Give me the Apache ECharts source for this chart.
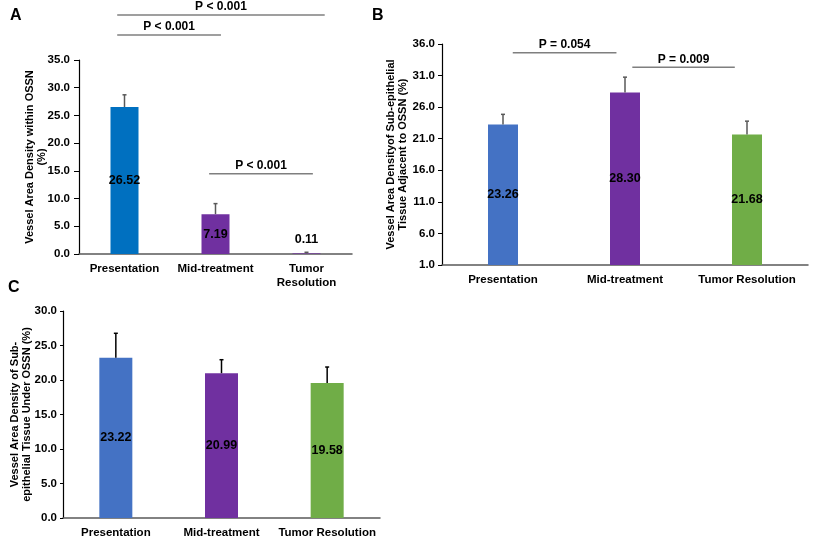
<!DOCTYPE html>
<html>
<head>
<meta charset="utf-8">
<script src="https://cdn.jsdelivr.net/npm/echarts@6/dist/echarts.min.js"></script>
<style>
  html, body { margin: 0; padding: 0; background: #fff; }
  #chart { width: 814px; height: 540px; }
</style>
</head>
<body>
<div id="chart"></div>
<script>
// panel A
const catsA = ['Presentation', 'Mid-treatment', 'Tumor\nResolution'];
const valuesA = [26.52, 7.19, 0.11];
const errorsA = [2.2, 1.9, 0.2];
const pLabelsA = ['P < 0.001', 'P < 0.001', 'P < 0.001'];
const pPairsA = [[0, 2, 43.1], [0, 1, 39.5], [1, 2, 14.5]];
// panel B
const catsB = ['Presentation', 'Mid-treatment', 'Tumor Resolution'];
const valuesB = [23.26, 28.30, 21.68];
const errorsB = [1.6, 2.45, 2.1];
const ticksB = [1, 6, 11, 16, 21, 26, 31, 36];
const pLabelsB = ['P = 0.054', 'P = 0.009'];
const pPairsB = [[0, 1, 34.6], [1, 2, 32.3]];
// panel C
const catsC = ['Presentation', 'Mid-treatment', 'Tumor Resolution'];
const valuesC = [23.22, 20.99, 19.58];
const errorsC = [3.55, 1.95, 2.3];

const FONT = '"Liberation Sans", Arial, sans-serif';
const BLUE_A = '#0070C0', BLUE = '#4472C4', PURPLE = '#7030A0', GREEN = '#70AD47';

// how far each bracket line runs past its category centres (fraction of band)
const offsetsA = [[-0.08, 0.2], [-0.08, 0.06], [-0.07, 0.07]];
const offsetsB = [[0.08, -0.07], [0.06, -0.1]];

let chart = echarts.init(document.getElementById('chart'));

function yAxisCommon(idx, name, min, max, gap, labelMargin, tickLen) {
  return {
    type: 'value', gridIndex: idx, min: min, max: max,
    name: name, nameLocation: 'middle', nameRotate: 90, nameGap: gap, nameMoveOverlap: false,
    nameTextStyle: { fontFamily: FONT, fontWeight: 'bold', fontSize: 11, color: '#000', lineHeight: 12 },
    axisLine: { show: true, lineStyle: { color: '#000', width: 1.2 } },
    axisTick: { show: true, length: tickLen, lineStyle: { color: '#000' } },
    axisLabel: { fontFamily: FONT, fontWeight: 'bold', fontSize: 11.5, color: '#000', margin: labelMargin,
      formatter: v => v.toFixed(1) },
    splitLine: { show: false }
  };
}

function xAxisCommon(idx, cats) {
  return {
    type: 'category', gridIndex: idx, data: cats,
    axisLine: { lineStyle: { color: '#595959', width: 1.5 } },
    axisTick: { show: false },
    axisLabel: { fontFamily: FONT, fontWeight: 'bold', fontSize: 11.5, color: '#000', margin: 8, lineHeight: 14, interval: 0 }
  };
}

function barSeries(idx, values, colors, width) {
  return {
    type: 'bar', xAxisIndex: idx, yAxisIndex: idx, barWidth: width,
    data: values.map((v, i) => {
      let d = { value: v, itemStyle: { color: colors[i] } };
      if (v < 2) d.label = { position: 'top', distance: 7 };
      return d;
    }),
    label: { show: true, position: 'inside', formatter: p => p.value.toFixed(2),
      fontFamily: FONT, fontWeight: 'bold', fontSize: 12.5, color: '#000' }
  };
}

function errorSeries(idx, values, errors, color) {
  return {
    type: 'custom', xAxisIndex: idx, yAxisIndex: idx, clip: false, z: 5,
    data: values.map((v, i) => [i, v, errors[i]]),
    encode: { x: 0, y: 1 },
    renderItem: function (params, api) {
      const i = api.value(0);
      const base = api.coord([i, api.value(1)]);
      const top = api.coord([i, api.value(1) + api.value(2)]);
      return { type: 'group', children: [
        { type: 'line', shape: { x1: base[0], y1: base[1], x2: top[0], y2: top[1] }, style: { stroke: color, lineWidth: 1.5 } },
        { type: 'line', shape: { x1: top[0] - 2, y1: top[1], x2: top[0] + 2, y2: top[1] }, style: { stroke: color, lineWidth: 1.5 } }
      ] };
    }
  };
}

function bracketSeries(idx, pairs, labels, offsets) {
  return {
    type: 'custom', xAxisIndex: idx, yAxisIndex: idx, clip: false, z: 5,
    data: pairs,
    encode: { x: 0, y: 2 },
    renderItem: function (params, api) {
      const a = api.coord([api.value(0), api.value(2)]);
      const b = api.coord([api.value(1), api.value(2)]);
      const band = api.size([1, 0])[0];
      const off = offsets[params.dataIndex];
      const x1 = a[0] + off[0] * band, x2 = b[0] + off[1] * band;
      return { type: 'group', children: [
        { type: 'line', shape: { x1: x1, y1: a[1], x2: x2, y2: a[1] }, style: { stroke: '#7f7f7f', lineWidth: 1.5 } },
        { type: 'text', style: { text: labels[params.dataIndex], x: (x1 + x2) / 2, y: a[1] - 8,
          align: 'center', verticalAlign: 'middle', fontFamily: FONT, fontWeight: 'bold', fontSize: 12, fill: '#000' } }
      ] };
    }
  };
}

function panelLetter(txt, x, y) {
  return { type: 'text', left: x, top: y,
    style: { text: txt, fontFamily: FONT, fontWeight: 'bold', fontSize: 16, fill: '#000' } };
}

let yB = yAxisCommon(1, 'Vessel Area Densityof Sub-epithelial\nTissue Adjacent to OSSN (%)', 1, 36, 33, 7, 4);
yB.axisLabel.customValues = ticksB;
yB.axisTick.customValues = ticksB;

let option = {
  animation: false,
  backgroundColor: '#fff',
  grid: [
    { left: 79, top: 60, width: 273, height: 194 },
    { left: 442, top: 44, width: 366, height: 221 },
    { left: 63, top: 311, width: 317, height: 210 }
  ],
  xAxis: [xAxisCommon(0, catsA), xAxisCommon(1, catsB), xAxisCommon(2, catsC)],
  yAxis: [
    Object.assign(yAxisCommon(0, 'Vessel Area Density within OSSN\n(%)', 0, 35, 31, 9, 5), { interval: 5 }),
    yB,
    Object.assign(yAxisCommon(2, 'Vessel Area Density of Sub-\nepithelial Tissue Under OSSN (%)', 0, 30, 30, 6, 3), { interval: 5 })
  ],
  graphic: [
    panelLetter('A', 10, 8),
    panelLetter('B', 372, 8),
    panelLetter('C', 8, 280)
  ],
  series: [
    barSeries(0, valuesA, [BLUE_A, PURPLE, PURPLE], 28),
    errorSeries(0, valuesA, errorsA, '#595959'),
    bracketSeries(0, pPairsA, pLabelsA, offsetsA),
    barSeries(1, valuesB, [BLUE, PURPLE, GREEN], 30),
    errorSeries(1, valuesB, errorsB, '#595959'),
    bracketSeries(1, pPairsB, pLabelsB, offsetsB),
    barSeries(2, valuesC, [BLUE, PURPLE, GREEN], 33),
    errorSeries(2, valuesC, errorsC, '#000')
  ]
};

chart.setOption(option);
</script>
</body>
</html>
